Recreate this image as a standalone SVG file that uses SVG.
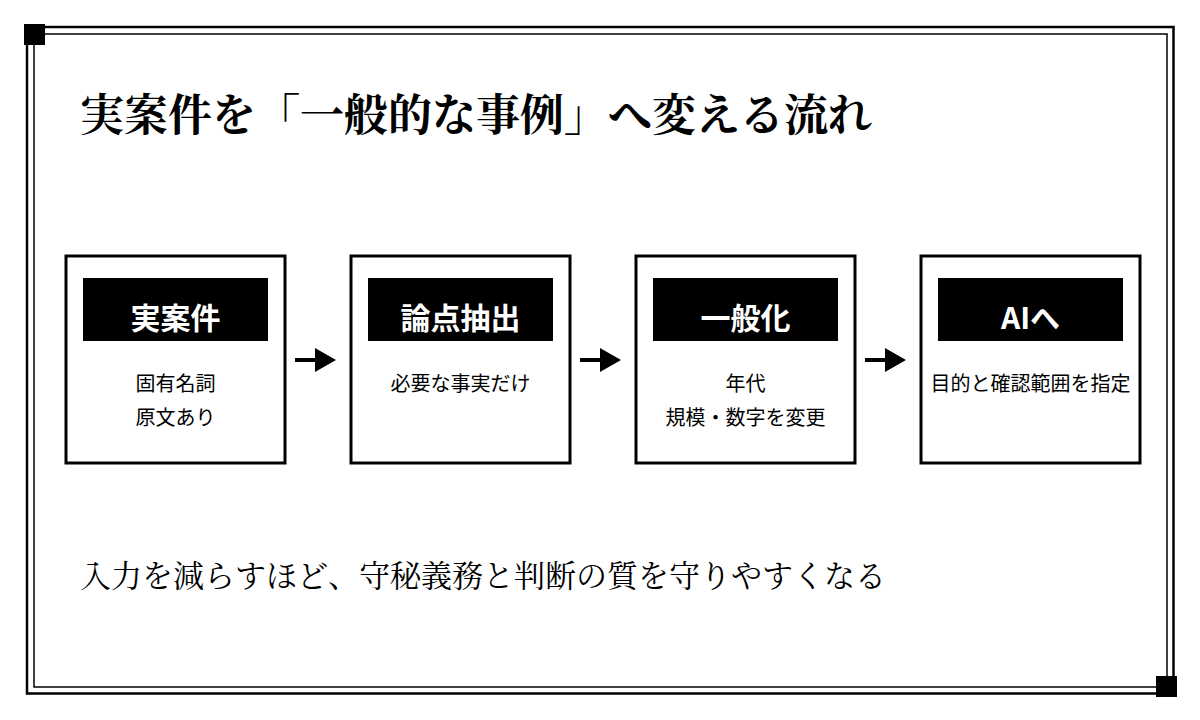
<svg xmlns="http://www.w3.org/2000/svg" width="1200" height="720" viewBox="0 0 1200 720">
  <defs>
    <style>
      .frame-outer { fill: none; stroke: #000; stroke-width: 2.5; }
      .frame-inner { fill: none; stroke: #000; stroke-width: 1.5; }
      .corner { fill: #000; }
      .box { fill: #fff; stroke: #000; stroke-width: 3; }
      .hdr { fill: #000; }
      .hdr-text { font-family: "Noto Sans CJK JP", "Noto Sans", sans-serif; font-weight: 700; font-size: 30px; fill: #fff; text-anchor: middle; dominant-baseline: central; }
      .body-text { font-family: "Noto Sans CJK JP", "Noto Sans", sans-serif; font-size: 20px; fill: #000; text-anchor: middle; dominant-baseline: central; }
      .title { font-family: "Noto Serif CJK JP", "Liberation Serif", "Noto Sans CJK JP", serif; font-weight: 700; font-size: 44px; fill: #000; dominant-baseline: central; }
      .note { font-family: "Noto Serif CJK JP", "Liberation Serif", "Noto Sans CJK JP", serif; font-size: 31px; fill: #000; dominant-baseline: central; }
      .conn-line { stroke: #000; stroke-width: 4; }
      .conn-head { fill: #000; }
    </style>
  </defs>
  <rect x="0" y="0" width="1200" height="720" fill="#fff"/>
  <g id="frame">
    <rect class="frame-outer" x="27" y="27" width="1146.5" height="666.5"/>
    <rect class="frame-inner" x="34" y="34" width="1133" height="653"/>
    <rect class="corner" x="24" y="24" width="21" height="21"/>
    <rect class="corner" x="1156" y="676" width="21" height="21"/>
  </g>
  <text id="title" class="title" x="80" y="112">実案件を「一般的な事例」へ変える流れ</text>

  <g id="node-1">
    <rect class="box" x="66" y="256" width="219" height="207"/>
    <rect class="hdr" x="83" y="278" width="185" height="63"/>
    <text class="hdr-text" x="175.5" y="316">実案件</text>
    <text class="body-text" x="175.5" y="382">固有名詞</text>
    <text class="body-text" x="175.5" y="416">原文あり</text>
  </g>
  <g id="node-2">
    <rect class="box" x="351" y="256" width="219" height="207"/>
    <rect class="hdr" x="368" y="278" width="185" height="63"/>
    <text class="hdr-text" x="460.5" y="316">論点抽出</text>
    <text class="body-text" x="460.5" y="382">必要な事実だけ</text>
  </g>
  <g id="node-3">
    <rect class="box" x="636" y="256" width="219" height="207"/>
    <rect class="hdr" x="653" y="278" width="185" height="63"/>
    <text class="hdr-text" x="745.5" y="316">一般化</text>
    <text class="body-text" x="745.5" y="382">年代</text>
    <text class="body-text" x="745.5" y="416">規模・数字を変更</text>
  </g>
  <g id="node-4">
    <rect class="box" x="921" y="256" width="219" height="207"/>
    <rect class="hdr" x="938" y="278" width="185" height="63"/>
    <text class="hdr-text" x="1030.5" y="316">AIへ</text>
    <text class="body-text" x="1030.5" y="382">目的と確認範囲を指定</text>
  </g>

  <g id="connectors">
    <line class="conn-line" x1="295" y1="360" x2="317" y2="360"/>
    <polygon class="conn-head" points="315,348 336,360 315,372"/>
    <line class="conn-line" x1="580" y1="360" x2="602" y2="360"/>
    <polygon class="conn-head" points="600,348 621,360 600,372"/>
    <line class="conn-line" x1="865" y1="360" x2="887" y2="360"/>
    <polygon class="conn-head" points="885,348 906,360 885,372"/>
  </g>

  <text id="note" class="note" x="80" y="573">入力を減らすほど、守秘義務と判断の質を守りやすくなる</text>
</svg>
